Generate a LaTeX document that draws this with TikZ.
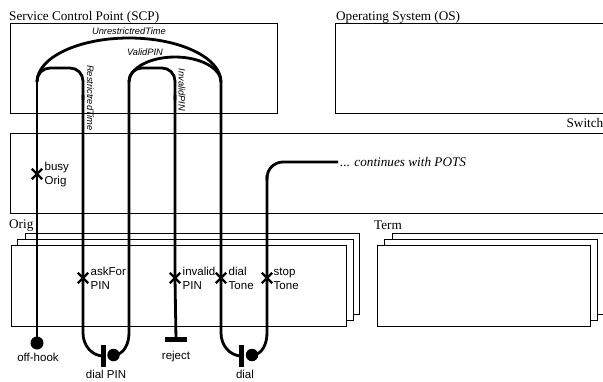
\documentclass[tikz,border=0pt]{standalone}
\usepackage{fontspec}
\setmainfont{Liberation Serif}
\newfontfamily\lsans{Liberation Sans}
\usetikzlibrary{shapes.misc}
\begin{document}
\begin{tikzpicture}[x=1pt,y=-1pt,
  box/.style={draw, line width=0.9pt, fill=white},
  ucm/.style={line width=2.8pt, line join=round},
  boxlabel/.style={font=\fontsize{13.2}{15}\selectfont, inner sep=0pt},
  resp/.style={cross out, draw, line width=2.4pt, minimum size=8pt, inner sep=0pt},
  lbl/.style={font=\lsans\fontsize{11.5}{13.8}\selectfont, align=left, anchor=west, inner sep=0pt},
  arclbl/.style={font=\lsans\itshape\fontsize{9.3}{11}\selectfont, inner sep=0pt},
  startpt/.style={circle, fill, minimum size=13pt, inner sep=0pt},
  waitbar/.style={rectangle, fill, minimum width=5pt, minimum height=22pt, inner sep=0pt},
  waitdot/.style={circle, fill, minimum size=12.5pt, inner sep=0pt},
  endbar/.style={rectangle, fill, minimum width=22pt, minimum height=5pt, inner sep=0pt}
]
\clip (0,0) rectangle (603,381);
% components
\draw[box] (10,23) rectangle (277,113);
\node[boxlabel, anchor=base west] (scpl) at (9,20.5) {Service Control Point (SCP)};
\draw[box] (335,23) rectangle (620,113);
\node[boxlabel, anchor=base west] (osl) at (336,20.5) {Operating System (OS)};
\draw[box] (10,133) rectangle (620,213);
\node[boxlabel, anchor=base east] (swl) at (603.5,127.5) {Switch};
% Orig stack
\draw[box] (25,233) rectangle (359,314);
\draw[box] (17,239) rectangle (353,320);
\draw[box] (11,245) rectangle (346,326);
\node[boxlabel, anchor=base west] (origl) at (9,228.5) {Orig};
% Term stack
\draw[box] (392,233) rectangle (620,314);
\draw[box] (384,239) rectangle (597,320);
\draw[box] (377,245) rectangle (590,326);
\node[boxlabel, anchor=base west] (terml) at (374,229) {Term};
% start / end / waiting places
\node[startpt] (offhook) at (37,343) {};
\node[lbl, anchor=center] (offhookl) at (38,357) {off-hook};
\node[waitbar] (dpbar) at (103.5,356) {};
\node[waitdot] (dpdot) at (113.5,355) {};
\node[lbl, anchor=center] (dpl) at (106,374.5) {dial PIN};
\node[endbar] (reject) at (176,339.5) {};
\node[lbl, anchor=center] (rejectl) at (176,357) {reject};
\node[waitbar] (dbar) at (241.7,356) {};
\node[waitdot] (ddot) at (252,355) {};
\node[lbl, anchor=center] (dl) at (245,374.5) {dial};
% responsibilities
\node[resp] (busy) at (37,174) {};
\node[resp] (askpin) at (83,278) {};
\node[resp] (invpin) at (175,278) {};
\node[resp] (dtone) at (221,278) {};
\node[resp] (stone) at (267,278) {};
\node[lbl] (busyl) at (44.5,174.5) {busy\\Orig};
\node[lbl] (askpinl) at (90.5,278.5) {askFor\\PIN};
\node[lbl] (invpinl) at (182.5,278.5) {invalid\\PIN};
\node[lbl] (dtonel) at (228.5,278.5) {dial\\Tone};
\node[lbl] (stonel) at (273.5,278.5) {stop\\Tone};
% fork points
\coordinate (f1) at (37,82);
\coordinate (f2) at (129,82);
\coordinate (j1) at (221,82);
\node[font=\itshape\fontsize{13.2}{15}\selectfont, anchor=west, inner sep=2pt] (pots) at (338,162) {... continues with POTS};
% paths
\draw[ucm] (offhook.center) -- (busy.center) -- (f1);
\draw[ucm] (f1) arc[start angle=180, end angle=0, x radius=92pt, y radius=44pt];
\draw[ucm, rounded corners=13pt] (f1) -- (37,68) -- (83,68) -- (83,100);
\draw[ucm] (83,95) -- (askpin.center) -- (83,333) to[out=-90, in=180] (dpbar.center);
\draw[ucm] (dpdot.center) to[out=0, in=-90] (129,333) -- (f2);
\draw[ucm] (f2) arc[start angle=180, end angle=0, x radius=46pt, y radius=25pt];
\draw[ucm, rounded corners=13pt] (f2) -- (129,68) -- (175,68) -- (175,100);
\draw[ucm] (175,95) -- (invpin.center) -- (reject.center);
\draw[ucm] (j1) -- (dtone.center) -- (221,333) to[out=-90, in=180] (dbar.center);
\draw[ucm] (ddot.center) to[out=0, in=-90] (267,333) -- (stone.center) -- (267,175);
\draw[ucm, rounded corners=16pt] (267,180) -- (267,162) -- (pots.west);
% path labels
\node[arclbl] (unr) at (129,31) {UnrestrictredTime};
\node[arclbl] (valid) at (145,52.5) {ValidPIN};
\node[arclbl, rotate=-90] (restr) at (90.5,98) {RestrictredTime};
\node[arclbl, rotate=-90] (inval) at (182,90) {InvalidPIN};
\end{tikzpicture}
\end{document}
